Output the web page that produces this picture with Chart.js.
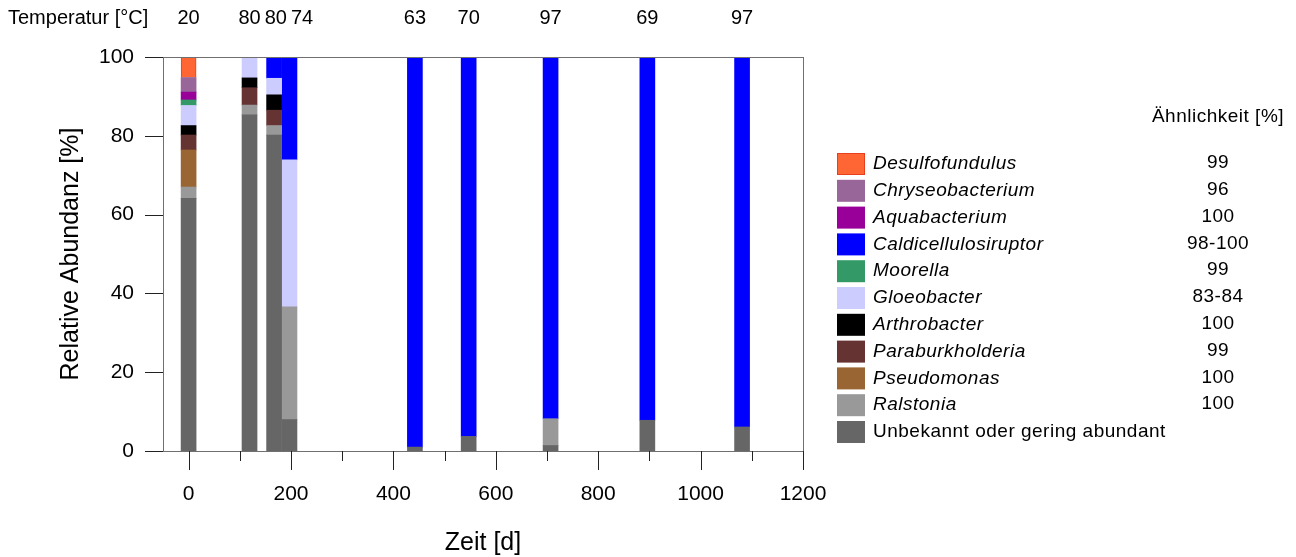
<!DOCTYPE html>
<html lang="de">
<head>
    <meta charset="utf-8" />
    <script src="https://cdn.jsdelivr.net/npm/chart.js@4.4.1/dist/chart.umd.min.js"></script>
    <style>
        html, body { margin: 0; padding: 0; background: #fff; }
        #wrap { width: 1296px; height: 557px; }
    </style>
    <script>
        // Probenahmezeitpunkte (Tage) und Temperatur je Probe
        var days = [0, 119, 167, 197, 442, 547, 707, 896, 1081];
        var temps = ['20', '80', '80', '74', '63', '70', '97', '69', '97'];

        // Gattungen in Legendenreihenfolge (oben -> unten)
        var genera = ['Desulfofundulus', 'Chryseobacterium', 'Aquabacterium', 'Caldicellulosiruptor',
            'Moorella', 'Gloeobacter', 'Arthrobacter', 'Paraburkholderia', 'Pseudomonas', 'Ralstonia',
            'Unbekannt oder gering abundant'];
        var similarity = ['99', '96', '100', '98-100', '99', '83-84', '100', '99', '100', '100', ''];

        // relative Abundanz [%] je Gattung und Probe
        var desulfofundulus  = [5.2, 0, 0, 0, 0, 0, 0, 0, 0];
        var chryseobacterium = [3.7, 0, 0, 0, 0, 0, 0, 0, 0];
        var aquabacterium    = [2.0, 0, 0, 0, 0, 0, 0, 0, 0];
        var caldicellulosiruptor = [0, 0, 5.4, 26.1, 99.0, 96.3, 91.8, 92.2, 93.9];
        var moorella         = [1.4, 0, 0, 0, 0, 0, 0, 0, 0];
        var gloeobacter      = [5.1, 5.3, 4.2, 37.3, 0, 0, 0, 0, 0];
        var arthrobacter     = [2.4, 2.5, 3.9, 0, 0, 0, 0, 0, 0];
        var paraburkholderia = [3.8, 4.4, 3.9, 0, 0, 0, 0, 0, 0];
        var pseudomonas      = [9.4, 0, 0, 0, 0, 0, 0, 0, 0];
        var ralstonia        = [2.9, 2.5, 2.4, 28.6, 0, 0, 6.8, 0, 0];
        var unbekannt        = [64.1, 85.3, 80.2, 8.0, 1.0, 3.7, 1.4, 7.8, 6.1];

        var series = [desulfofundulus, chryseobacterium, aquabacterium, caldicellulosiruptor, moorella,
            gloeobacter, arthrobacter, paraburkholderia, pseudomonas, ralstonia, unbekannt];

        // Achsen-Ticks
        var xTicks = [0, 200, 400, 600, 800, 1000, 1200];
        var xMinor = [100, 300, 500, 700, 900, 1100];
        var yTicks = [0, 20, 40, 60, 80, 100];

        var colors = ['#ff6633', '#996699', '#990099', '#0000ff', '#339966', '#ccccff',
            '#000000', '#663333', '#996633', '#999999', '#666666'];
    </script>
</head>
<body>
    <div id="wrap"><canvas id="myChart" width="1296" height="557"></canvas></div>

    <script>
        var FONT = '"Liberation Sans", Arial, sans-serif';

        // Datensaetze: unterste Schicht zuerst
        var datasets = [];
        for (var g = genera.length - 1; g >= 0; g--) {
            var pts = [];
            days.forEach(function (d, i) {
                if (series[g][i] > 0) pts.push({ x: d, y: series[g][i] });
            });
            datasets.push({
                label: genera[g],
                data: pts,
                backgroundColor: colors[g],
                borderColor: g === 0 ? '#e8401c' : colors[g],
                borderWidth: g === 0 ? 1 : 0,
                barThickness: 15
            });
        }

        // Rahmen, Ticks, Titel, Temperaturzeile und Legende
        var extras = {
            id: 'extras',
            afterDraw: function (chart) {
                var c = chart.ctx, a = chart.chartArea;
                var xs = chart.scales.x, ys = chart.scales.y;
                c.save();

                // Rahmen
                c.strokeStyle = '#707070';
                c.lineWidth = 1;
                c.strokeRect(Math.round(a.left) + 0.5, Math.round(a.top) + 0.5,
                    Math.round(a.right - a.left), Math.round(a.bottom - a.top));

                // Ticks
                c.strokeStyle = '#222';
                c.beginPath();
                yTicks.forEach(function (v) {
                    var y = Math.round(ys.getPixelForValue(v)) + 0.5;
                    c.moveTo(a.left - 18, y); c.lineTo(a.left, y);
                });
                xTicks.forEach(function (v) {
                    var x = Math.round(xs.getPixelForValue(v)) + 0.5;
                    c.moveTo(x, a.bottom); c.lineTo(x, a.bottom + 19);
                });
                xMinor.forEach(function (v) {
                    var x = Math.round(xs.getPixelForValue(v)) + 0.5;
                    c.moveTo(x, a.bottom); c.lineTo(x, a.bottom + 10);
                });
                c.stroke();

                c.fillStyle = '#000';
                c.textBaseline = 'middle';

                // Achsentitel
                c.font = '25px ' + FONT;
                c.textAlign = 'center';
                c.fillText('Zeit [d]', (a.left + a.right) / 2, 543);
                c.save();
                c.translate(71, (a.top + a.bottom) / 2);
                c.rotate(-Math.PI / 2);
                c.fillText('Relative Abundanz [%]', 0, 0);
                c.restore();

                // Temperaturzeile
                c.font = '20px ' + FONT;
                c.textAlign = 'left';
                c.fillText('Temperatur [\u00B0C]', 8, 18);
                var prevRight = -1e9;
                days.forEach(function (d, i) {
                    var w = c.measureText(temps[i]).width;
                    var left = xs.getPixelForValue(d) - w / 2;
                    if (left < prevRight + 4) left = prevRight + 4;
                    c.fillText(temps[i], left, 18);
                    prevRight = left + w;
                });

                // Legende
                c.letterSpacing = '0.5px';
                c.font = '19px ' + FONT;
                c.textAlign = 'center';
                c.fillText('\u00C4hnlichkeit [%]', 1218, 117);
                genera.forEach(function (name, k) {
                    var top = 153 + k * 26.8;
                    c.fillStyle = colors[k];
                    c.fillRect(837, top, 28, 22);
                    if (k === 0) {
                        c.strokeStyle = '#e8401c';
                        c.strokeRect(837.5, top + 0.5, 27, 21);
                    }
                    c.fillStyle = '#000';
                    c.textAlign = 'left';
                    c.font = (k < genera.length - 1 ? 'italic ' : '') + '19px ' + FONT;
                    c.fillText(name, 873, top + 11);
                    c.textAlign = 'center';
                    c.font = '19px ' + FONT;
                    c.fillText(similarity[k], 1218, top + 10);
                });
                c.restore();
            }
        };

        const ctx = document.getElementById('myChart');
        const myChart = new Chart(ctx, {
            type: 'bar',
            data: { datasets: datasets },
            plugins: [extras],
            options: {
                responsive: false,
                animation: false,
                layout: { padding: { left: 0, top: 57, right: 493, bottom: 0 } },
                plugins: { legend: { display: false }, tooltip: { enabled: false } },
                scales: {
                    x: {
                        type: 'linear',
                        stacked: true,
                        offset: false,
                        min: -50,
                        max: 1200,
                        grid: { display: false, offset: false },
                        border: { display: false },
                        afterBuildTicks: function (s) { s.ticks = xTicks.map(function (v) { return { value: v }; }); },
                        afterFit: function (s) { s.height = 106; },
                        ticks: {
                            padding: 23, color: '#000', font: { family: FONT, size: 21 }, maxRotation: 0, autoSkip: false,
                            callback: function (v) { return String(v); }
                        }
                    },
                    y: {
                        stacked: true,
                        min: 0,
                        max: 100,
                        grid: { display: false },
                        border: { display: false },
                        afterBuildTicks: function (s) { s.ticks = yTicks.map(function (v) { return { value: v }; }); },
                        afterFit: function (s) { s.width = 163; },
                        ticks: { padding: 21, color: '#000', font: { family: FONT, size: 21 } }
                    }
                }
            }
        });
    </script>
</body>
</html>
